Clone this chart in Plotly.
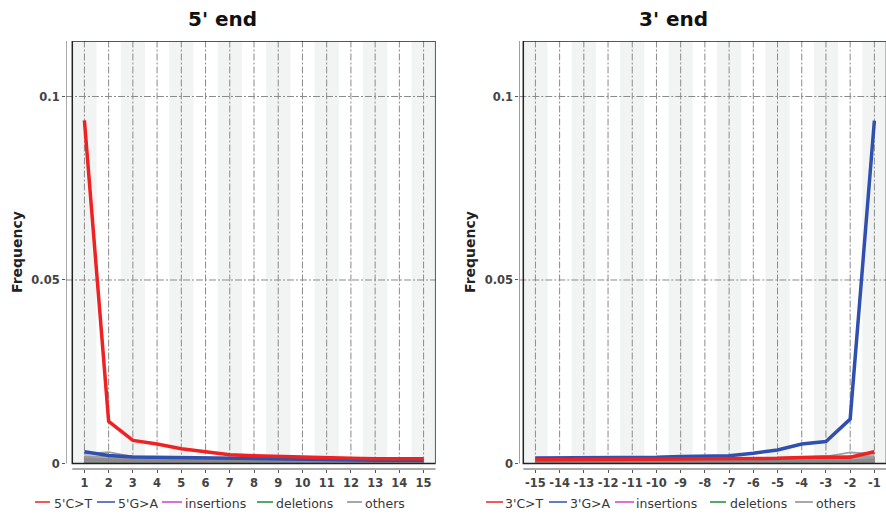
import plotly.graph_objects as go

# ---------------- data ----------------
pos5 = [1, 2, 3, 4, 5, 6, 7, 8, 9, 10, 11, 12, 13, 14, 15]
pos3 = [-15, -14, -13, -12, -11, -10, -9, -8, -7, -6, -5, -4, -3, -2, -1]
tick5 = ["1", "2", "3", "4", "5", "6", "7", "8", "9", "10", "11", "12", "13", "14", "15"]
tick3 = ["-15", "-14", "-13", "-12", "-11", "-10", "-9", "-8", "-7", "-6", "-5", "-4", "-3", "-2", "-1"]
ytickvals = [0, 0.05, 0.1]
yticktext = ["0", "0.05", "0.1"]

ct5 = [0.0935, 0.0115, 0.0063, 0.0053, 0.0040, 0.0033, 0.0024, 0.0021, 0.0019, 0.0016, 0.0015, 0.0014, 0.0013, 0.0013, 0.0013]
ga5 = [0.0032, 0.0022, 0.0018, 0.0017, 0.0016, 0.0015, 0.0014, 0.0013, 0.0011, 0.0010, 0.0009, 0.0009, 0.0009, 0.0009, 0.0009]
ins5 = [0.00008, 0.00007, 0.00006, 0.00007, 0.00006, 0.00006, 0.00005, 0.00006, 0.00006, 0.00005, 0.00005, 0.00006, 0.00005, 0.00005, 0.00005]
del5 = [0.00010, 0.00009, 0.00008, 0.00008, 0.00007, 0.00007, 0.00007, 0.00006, 0.00006, 0.00006, 0.00006, 0.00006, 0.00006, 0.00005, 0.00005]
others5 = [
    [0.0026, 0.0031, 0.0019, 0.0016, 0.0015, 0.0014, 0.0014, 0.0013, 0.0013, 0.0012, 0.0012, 0.0012, 0.0012, 0.0011, 0.0011],
    [0.0020, 0.0018, 0.0015, 0.0014, 0.0013, 0.0013, 0.0012, 0.0012, 0.0011, 0.0011, 0.0011, 0.0010, 0.0010, 0.0010, 0.0010],
    [0.0016, 0.0013, 0.0012, 0.0011, 0.0011, 0.0010, 0.0010, 0.0010, 0.0009, 0.0009, 0.0009, 0.0009, 0.0009, 0.0008, 0.0008],
    [0.0013, 0.0011, 0.0010, 0.0009, 0.0009, 0.0009, 0.0008, 0.0008, 0.0008, 0.0008, 0.0007, 0.0007, 0.0007, 0.0007, 0.0007],
    [0.0011, 0.0009, 0.0008, 0.0008, 0.0007, 0.0007, 0.0007, 0.0007, 0.0006, 0.0006, 0.0006, 0.0006, 0.0006, 0.0006, 0.0006],
    [0.0009, 0.0008, 0.0007, 0.0006, 0.0006, 0.0006, 0.0006, 0.0005, 0.0005, 0.0005, 0.0005, 0.0005, 0.0005, 0.0005, 0.0005],
    [0.0007, 0.0006, 0.0005, 0.0005, 0.0005, 0.0004, 0.0004, 0.0004, 0.0004, 0.0004, 0.0004, 0.0004, 0.0004, 0.0004, 0.0004],
    [0.0005, 0.0004, 0.0004, 0.0004, 0.0003, 0.0003, 0.0003, 0.0003, 0.0003, 0.0003, 0.0003, 0.0003, 0.0003, 0.0003, 0.0003],
]

ct3 = [0.0010, 0.0010, 0.0011, 0.0011, 0.0012, 0.0012, 0.0012, 0.0013, 0.0013, 0.0014, 0.0014, 0.0016, 0.0018, 0.0017, 0.0032]
ga3 = [0.0015, 0.0015, 0.0015, 0.0016, 0.0016, 0.0017, 0.0019, 0.0019, 0.0021, 0.0028, 0.0037, 0.0053, 0.0060, 0.0121, 0.0934]
ins3 = [0.00005, 0.00005, 0.00005, 0.00006, 0.00005, 0.00006, 0.00006, 0.00005, 0.00006, 0.00006, 0.00006, 0.00007, 0.00006, 0.00007, 0.00008]
del3 = [0.00005, 0.00006, 0.00006, 0.00006, 0.00006, 0.00006, 0.00007, 0.00007, 0.00007, 0.00007, 0.00008, 0.00008, 0.00008, 0.00009, 0.00010]
others3 = [
    [0.0011, 0.0011, 0.0011, 0.0012, 0.0012, 0.0012, 0.0012, 0.0013, 0.0013, 0.0014, 0.0015, 0.0016, 0.0019, 0.0030, 0.0026],
    [0.0010, 0.0010, 0.0010, 0.0010, 0.0011, 0.0011, 0.0011, 0.0011, 0.0012, 0.0012, 0.0013, 0.0013, 0.0015, 0.0021, 0.0020],
    [0.0008, 0.0008, 0.0008, 0.0009, 0.0009, 0.0009, 0.0009, 0.0010, 0.0010, 0.0010, 0.0010, 0.0011, 0.0012, 0.0016, 0.0015],
    [0.0007, 0.0007, 0.0007, 0.0007, 0.0007, 0.0008, 0.0008, 0.0008, 0.0008, 0.0008, 0.0009, 0.0009, 0.0010, 0.0012, 0.0012],
    [0.0006, 0.0006, 0.0006, 0.0006, 0.0006, 0.0006, 0.0006, 0.0007, 0.0007, 0.0007, 0.0007, 0.0007, 0.0008, 0.0009, 0.0010],
    [0.0005, 0.0005, 0.0005, 0.0005, 0.0005, 0.0005, 0.0005, 0.0005, 0.0005, 0.0006, 0.0006, 0.0006, 0.0006, 0.0007, 0.0008],
    [0.0004, 0.0004, 0.0004, 0.0004, 0.0004, 0.0004, 0.0004, 0.0004, 0.0004, 0.0004, 0.0005, 0.0005, 0.0005, 0.0005, 0.0006],
    [0.0003, 0.0003, 0.0003, 0.0003, 0.0003, 0.0003, 0.0003, 0.0003, 0.0003, 0.0003, 0.0003, 0.0003, 0.0004, 0.0004, 0.0004],
]

legend5 = ["5'C>T", "5'G>A", "insertions", "deletions", "others"]
legend3 = ["3'C>T", "3'G>A", "insertions", "deletions", "others"]

# ---------------- style ----------------
W, H = 886, 515
ML, MR, MT, MB = 66, 0, 41, 46
PW, PH = W - ML - MR, H - MT - MB
RED, BLUE, MAG, GREEN, GRAY = "#ee2222", "#3050b0", "#d23fc0", "#1f8a3a", "#8a8a8a"
BAND = "#f2f4f4"
GRID = "#8a8a8a"
YTOP = 0.11512
DASH = "7px,2px,2px,2px"
TICKFONT = dict(family="DejaVu Sans", size=11.5, color="#444444", weight="bold")


def px_x(p):
    return (p - ML) / PW


def px_y(p):
    return (MT + PH - p) / PH


X5_RANGE = [0.240, 15.5]
X3_RANGE = [-15.665, -0.52]

fig = go.Figure()

panels = [
    dict(x=pos5, ct=ct5, ga=ga5, ins=ins5, dl=del5, oth=others5, xa="x", ya="y", rng=X5_RANGE),
    dict(x=pos3, ct=ct3, ga=ga3, ins=ins3, dl=del3, oth=others3, xa="x2", ya="y2", rng=X3_RANGE),
]
for p in panels:
    fig.add_trace(go.Scatter(x=p["x"], y=p["ins"], mode="lines", line=dict(color=MAG, width=1.5),
                             xaxis=p["xa"], yaxis=p["ya"], showlegend=False))
    fig.add_trace(go.Scatter(x=p["x"], y=p["dl"], mode="lines", line=dict(color=GREEN, width=1.5),
                             xaxis=p["xa"], yaxis=p["ya"], showlegend=False))
    for o in p["oth"]:
        fig.add_trace(go.Scatter(x=p["x"], y=o, mode="lines", line=dict(color=GRAY, width=1.8),
                                 opacity=0.8, xaxis=p["xa"], yaxis=p["ya"], showlegend=False))
    fig.add_trace(go.Scatter(x=p["x"], y=p["ga"], mode="lines", line=dict(color=BLUE, width=3.5),
                             xaxis=p["xa"], yaxis=p["ya"], showlegend=False))
    fig.add_trace(go.Scatter(x=p["x"], y=p["ct"], mode="lines", line=dict(color=RED, width=3.5),
                             xaxis=p["xa"], yaxis=p["ya"], showlegend=False))

shapes = []
for p in panels:
    xr, yr, xs = p["xa"], p["ya"], p["x"]
    # alternating shaded bands on odd positions
    for i, v in enumerate(xs):
        if i % 2 == 0:
            shapes.append(dict(type="rect", xref=xr, yref=yr, x0=v - 0.5, x1=v + 0.5, y0=0, y1=YTOP,
                               fillcolor=BAND, line=dict(width=0), layer="below"))
    # vertical dash-dot grid
    for v in xs:
        shapes.append(dict(type="line", xref=xr, yref=yr, x0=v, x1=v, y0=0, y1=YTOP,
                           line=dict(color=GRID, width=1, dash=DASH), layer="below"))
    # horizontal dash-dot grid
    for v in ytickvals[1:]:
        shapes.append(dict(type="line", xref=xr, yref=yr, x0=p["rng"][0], x1=p["rng"][1], y0=v, y1=v,
                           line=dict(color=GRID, width=1, dash=DASH), layer="below"))
    # panel box
    shapes.append(dict(type="rect", xref=xr, yref=yr, x0=xs[0] - 0.5, x1=xs[-1] + 0.5, y0=0, y1=YTOP,
                       line=dict(color="#222222", width=1.5), fillcolor="rgba(0,0,0,0)", layer="above"))
    # detached axis lines
    shapes.append(dict(type="line", xref=xr, yref=yr, x0=p["rng"][0], x1=p["rng"][0], y0=0, y1=YTOP,
                       line=dict(color="#555555", width=1)))
    shapes.append(dict(type="line", xref=xr, yref=yr + " domain", x0=xs[0] - 0.5, x1=xs[-1] + 0.5, y0=0, y1=0,
                       line=dict(color="#555555", width=1)))

# custom legends (line segment + label)
annotations = []
leg_y = 502
colors = [RED, BLUE, MAG, GREEN, GRAY]
leg5_pos = [(35, 50, 52), (97, 115, 116), (162, 182, 183), (257, 273, 274), (347, 362, 363)]
leg3_pos = [(486, 503, 503), (549, 567, 568), (615, 634, 634), (710, 726, 728), (795, 813, 814)]
for labels, posl in ((legend5, leg5_pos), (legend3, leg3_pos)):
    for lab, c, (a, b, t) in zip(labels, colors, posl):
        shapes.append(dict(type="line", xref="paper", yref="paper", x0=px_x(a), x1=px_x(b),
                           y0=px_y(leg_y), y1=px_y(leg_y), line=dict(color=c, width=1.5)))
        annotations.append(dict(text=lab, xref="paper", yref="paper", x=px_x(t), y=px_y(leg_y + 1),
                                xanchor="left", yanchor="middle", showarrow=False,
                                font=dict(family="DejaVu Sans", size=12.5, color="#383838")))

# titles
for txt, cx in (("5' end", 222), ("3' end", 673)):
    annotations.append(dict(text="<b>" + txt + "</b>", xref="paper", yref="paper", x=px_x(cx), y=px_y(19),
                            xanchor="center", yanchor="middle", showarrow=False,
                            font=dict(family="DejaVu Sans", size=20, color="#111111")))
for cx in (17, 470):
    annotations.append(dict(text="<b>Frequency</b>", xref="paper", yref="paper", x=px_x(cx), y=px_y(252),
                            xanchor="center", yanchor="middle", showarrow=False, textangle=-90,
                            font=dict(family="DejaVu Sans", size=14, color="#222222")))

xcommon = dict(ticks="outside", ticklen=3, tickcolor="#555555", showgrid=False, zeroline=False,
               showline=False, tickfont=TICKFONT, fixedrange=True)
ycommon = dict(ticks="outside", ticklen=3, tickcolor="#555555", showgrid=False, zeroline=False,
               showline=False, tickfont=TICKFONT, range=[-0.0015, YTOP], tickvals=ytickvals,
               ticktext=yticktext, fixedrange=True, domain=[0, 1])

fig.update_layout(
    width=W, height=H,
    margin=dict(l=ML, r=MR, t=MT, b=MB),
    paper_bgcolor="white", plot_bgcolor="white",
    showlegend=False,
    xaxis=dict(domain=[0, px_x(435.7)], range=X5_RANGE, tickvals=pos5, ticktext=tick5, anchor="y", **xcommon),
    yaxis=dict(anchor="x", **ycommon),
    xaxis2=dict(domain=[px_x(519.3), 1], range=X3_RANGE, tickvals=pos3, ticktext=tick3, anchor="y2", **xcommon),
    yaxis2=dict(anchor="x2", **ycommon),
    shapes=shapes,
    annotations=annotations,
)

# place the figure at the window's top-left corner (no default body margin)
fig.write_html("out.html", config={"displayModeBar": False},
               post_script="document.body.style.margin='0';document.body.style.overflow='hidden';")
